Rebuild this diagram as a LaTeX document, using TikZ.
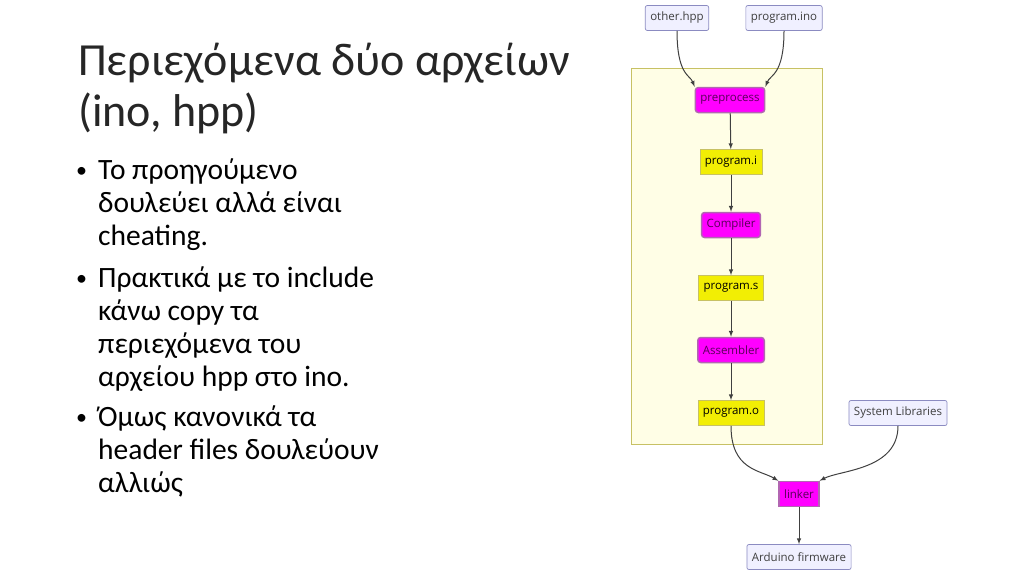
\documentclass[tikz,border=0pt]{standalone}
\usepackage{fontspec}
\setmainfont{Carlito}
\newfontfamily\diag{Open Sans}
\definecolor{mag}{RGB}{255,0,255}
\begin{document}
\begin{tikzpicture}[x=1pt,y=-1pt,
  dfont/.style={font=\diag\fontsize{11.5}{13}\selectfont},
  ext/.style={dfont,draw=blue!30!gray!70,fill=blue!6,rounded corners=2pt,line width=0.7pt,minimum height=25pt,inner xsep=5pt,text=black!75},
  proc/.style={dfont,draw=violet!60,fill=mag,rounded corners=3pt,line width=1.5pt,minimum height=25pt,inner xsep=5pt,text=violet!70!black},
  file/.style={dfont,draw=yellow!50!gray,fill=yellow!95!green,line width=0.7pt,minimum height=25pt,inner xsep=5pt},
  arr/.style={draw=black!75,line width=1pt,-latex},
  txt/.style={anchor=base west,font=\fontsize{29.5}{31}\selectfont,inner sep=0}]
\useasboundingbox (0,0) rectangle (1024,576);
\fill[white] (0,0) rectangle (1024,576);
\node[txt,font=\fontsize{46}{48}\selectfont,text=black!85] (t1) at (78,75) {Περιεχόμενα δύο αρχείων};
\node[txt,font=\fontsize{46}{48}\selectfont,text=black!85] (t2) at (78,126) {(ino, hpp)};
\foreach \y/\s in {179/Το προηγούμενο,212/δουλεύει αλλά είναι,245/cheating.,287/Πρακτικά με το include,320/κάνω copy τα,353/περιεχόμενα του,386/αρχείου hpp στο ino.,426/Όμως κανονικά τα,459/header files δουλεύουν,492/αλλιώς}
  \node[txt] at (98,\y) {\s};
\foreach \y in {179,287,426} \node[txt,font=\fontsize{22}{24}\selectfont] at (76,\y-2) {•};
\draw[fill=yellow!10,draw=yellow!50!gray,line width=0.7pt] (631,68) rectangle (822,444);
\node[ext] (oh) at (677,18) {other.hpp};
\node[ext] (pi) at (784,18) {program.ino};
\node[proc] (pp) at (730,100) {preprocess};
\node[file] (fi) at (731,162) {program.i};
\node[proc] (cc) at (731,225) {Compiler};
\node[file] (fs) at (731,288) {program.s};
\node[proc] (as) at (731,350) {Assembler};
\node[file] (fo) at (731,413) {program.o};
\node[ext] (sl) at (898,413) {System Libraries};
\node[proc,rounded corners=0pt] (ln) at (799,494) {linker};
\node[ext] (af) at (799,557) {Arduino firmware};
\draw[arr] (oh.south) .. controls (677,75) and (690,75) .. (pp.north west);
\draw[arr] (pi.south) .. controls (784,75) and (770,75) .. (pp.north east);
\draw[arr] (pp) -- (fi);
\draw[arr] (fi) -- (cc);
\draw[arr] (cc) -- (fs);
\draw[arr] (fs) -- (as);
\draw[arr] (as) -- (fo);
\draw[arr] (fo.south) .. controls (731,470) and (760,470) .. (ln.north west);
\draw[arr] (sl.south) .. controls (898,470) and (840,470) .. (ln.north east);
\draw[arr] (ln) -- (af);
\end{tikzpicture}
\end{document}
